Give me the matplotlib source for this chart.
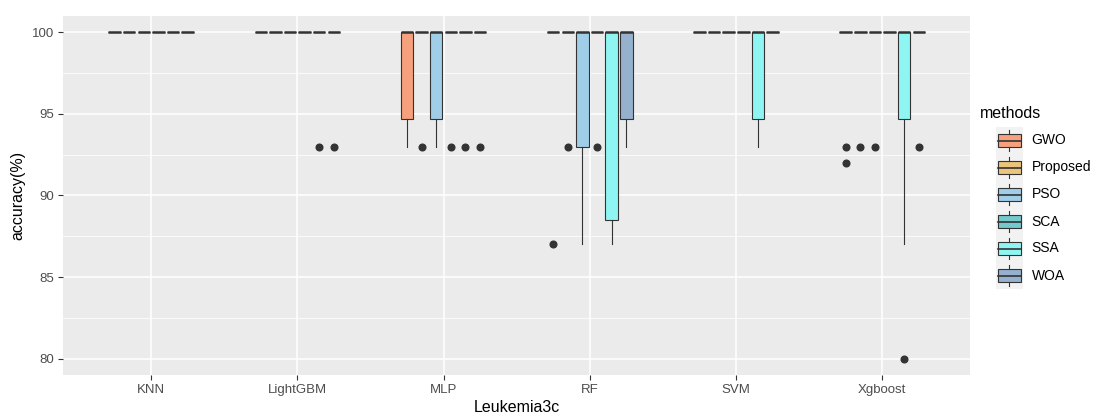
import matplotlib
matplotlib.use('Agg')
import matplotlib.pyplot as plt
from matplotlib.patches import Rectangle

# ========== data ==========

classifiers = ['KNN', 'LightGBM', 'MLP', 'RF', 'SVM', 'Xgboost']
methods = ['GWO', 'Proposed', 'PSO', 'SCA', 'SSA', 'WOA']
colors = ['#F6A07E', '#EBC57C', '#A0CDE8', '#73C9CE', '#8FF5F2', '#95B1CD']

# one row per classifier, one column per method
q1 = [
    [100, 100, 100, 100, 100, 100],     # KNN
    [100, 100, 100, 100, 100, 100],     # LightGBM
    [94.7, 100, 94.7, 100, 100, 100],   # MLP
    [100, 100, 93, 100, 88.5, 94.7],    # RF
    [100, 100, 100, 100, 94.7, 100],    # SVM
    [100, 100, 100, 100, 94.7, 100],    # Xgboost
]
median = [[100] * 6 for _ in classifiers]
q3 = [[100] * 6 for _ in classifiers]
whisker_lo = [
    [100, 100, 100, 100, 100, 100],
    [100, 100, 100, 100, 100, 100],
    [93, 100, 93, 100, 100, 100],
    [100, 100, 87, 100, 87, 93],
    [100, 100, 100, 100, 93, 100],
    [100, 100, 100, 100, 87, 100],
]
whisker_hi = [[100] * 6 for _ in classifiers]
outliers = [
    [[], [], [], [], [], []],
    [[], [], [], [], [93], [93]],
    [[], [93], [], [93], [93], [93]],
    [[87], [93], [], [93], [], []],
    [[], [], [], [], [], []],
    [[93, 92], [93], [93], [], [80], [93]],
]

# ========== plot ==========

plt.rcParams['font.family'] = ['Liberation Sans', 'DejaVu Sans']

fig = plt.figure(figsize=(10.96, 4.18), dpi=100)
ax = fig.add_axes([63.3 / 1096, 1 - 375 / 418, (970 - 63.3) / 1096, (375 - 16) / 418])
ax.set_facecolor('#EBEBEB')

dodge = 0.1
box_w = 0.085
edge = '#333333'

for i, clf in enumerate(classifiers):
    for j, m in enumerate(methods):
        stats = [{
            'q1': q1[i][j], 'med': median[i][j], 'q3': q3[i][j],
            'whislo': whisker_lo[i][j], 'whishi': whisker_hi[i][j],
            'fliers': outliers[i][j],
        }]
        pos = i + 1 + (j - 2.5) * dodge
        ax.bxp(stats, positions=[pos], widths=box_w, patch_artist=True,
               showcaps=False, manage_ticks=False,
               boxprops=dict(facecolor=colors[j], edgecolor=edge, linewidth=0.8),
               medianprops=dict(color=edge, linewidth=1.8),
               whiskerprops=dict(color=edge, linewidth=0.8),
               flierprops=dict(marker='o', markerfacecolor=edge, markeredgecolor=edge,
                               markersize=4.8))

ax.set_xlim(0.4, len(classifiers) + 0.6)
ax.set_ylim(79, 101)
ax.set_xticks(range(1, len(classifiers) + 1))
ax.set_xticklabels(classifiers)
ax.set_yticks([80, 85, 90, 95, 100])
ax.set_yticks([82.5, 87.5, 92.5, 97.5], minor=True)
ax.grid(True, which='major', color='white', linewidth=1.1)
ax.grid(True, which='minor', axis='y', color='white', linewidth=0.55)
ax.set_axisbelow(True)
for s in ax.spines.values():
    s.set_visible(False)
ax.tick_params(which='major', length=3.5, width=0.8, color=edge, labelcolor='#4D4D4D',
               labelsize=9.5, pad=3)
ax.tick_params(which='minor', length=0)
ax.set_xlabel('Leukemia3c', fontsize=11.5, labelpad=3)
ax.set_ylabel('accuracy(%)', fontsize=11.5, labelpad=5)

# legend drawn as ggplot-style keys
lg = fig.add_axes([996 / 1096, 1 - 289 / 418, 27 / 1096, 162 / 418])
lg.set_facecolor('#F2F2F2')
lg.set_xlim(0, 1)
lg.set_ylim(0, len(methods))
lg.set_xticks([])
lg.set_yticks([])
for s in lg.spines.values():
    s.set_visible(False)
for k, m in enumerate(methods):
    y0 = len(methods) - 1 - k
    lg.plot([0.5, 0.5], [y0 + 0.1, y0 + 0.25], color=edge, linewidth=0.8)
    lg.plot([0.5, 0.5], [y0 + 0.75, y0 + 0.9], color=edge, linewidth=0.8)
    lg.add_patch(Rectangle((0.08, y0 + 0.25), 0.84, 0.5, facecolor=colors[k],
                           edgecolor=edge, linewidth=0.8))
    lg.plot([0.08, 0.92], [y0 + 0.5, y0 + 0.5], color=edge, linewidth=1.2)
    lg.text(1.32, y0 + 0.5, m, va='center', ha='left', fontsize=10, clip_on=False)
fig.text(980 / 1096, 1 - 114 / 418, 'methods', va='center', ha='left', fontsize=11.5)

fig.savefig('out.png', dpi=100)
